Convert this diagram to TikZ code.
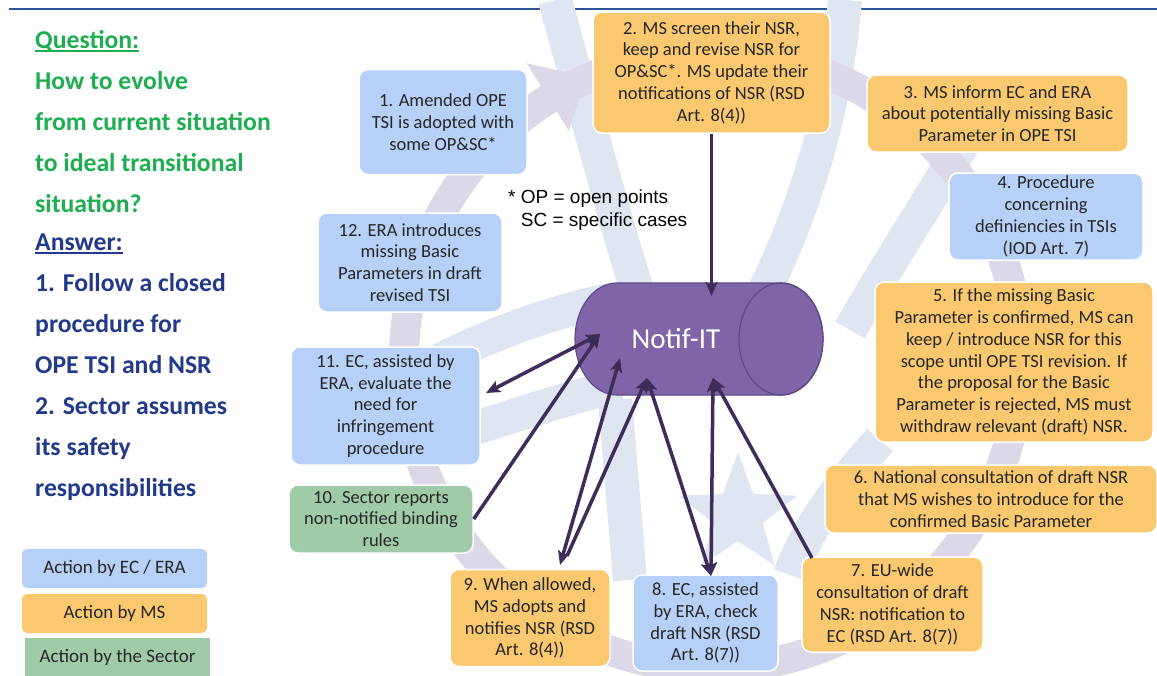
\documentclass[tikz,border=0pt]{standalone}
\usepackage{fontspec}
\setmainfont{Carlito}
\newfontfamily\notefont{Liberation Sans}
\usepackage[svgnames]{xcolor}
\usepackage{tikz}
\usetikzlibrary{arrows.meta, calc, positioning, shapes.geometric}
\definecolor{ecblue}{HTML}{B6D0F8}
\definecolor{msorange}{HTML}{F9C86F}
\definecolor{secgreen}{HTML}{A0CBA8}
\definecolor{qgreen}{HTML}{1DAE50}
\definecolor{anavy}{HTML}{233A8C}
\definecolor{flowpurple}{HTML}{3E2C5A}
\definecolor{cylfill}{HTML}{8064A8}
\definecolor{cylline}{HTML}{5E4A88}
\definecolor{swoosh}{HTML}{DFE6F1}
\definecolor{ringcol}{HTML}{DCD8E8}
\definecolor{topline}{HTML}{2F5597}
\newcommand\thickul[1]{\setbox0\hbox{#1}\rlap{\raisebox{-3.5pt}{\rule{\wd0}{2pt}}}\box0}
\tikzset{ x=1pt, y=-1pt, >={Stealth[length=14pt, width=12pt, inset=3pt]},
  box/.style={draw=white, line width=1.5pt, rounded corners=9pt, align=center, inner sep=2pt, text=black!85, font=\fontsize{18.5}{21.8}\selectfont},
  ecbox/.style={box, fill=ecblue}, msbox/.style={box, fill=msorange}, secbox/.style={box, fill=secgreen},
  legend/.style={box, draw=none, rounded corners=5pt, minimum width=185pt, minimum height=39pt, font=\fontsize{19}{22}\selectfont},
  flow/.style={draw=flowpurple, line width=3.5pt},
  band/.style={draw=swoosh, line width=34pt},
  sidetext/.style={anchor=north west, inner sep=0pt, align=left, font=\fontsize{25.7}{41}\selectfont\bfseries} }
\def\cylrx{42}
\def\cylry{56}

\begin{document}
\begin{tikzpicture}
\useasboundingbox[fill=white] (0,0) rectangle (1157,675);
\draw[topline, line width=1.3pt] (9,9) -- (1157,9);
\draw[band] (555,0) .. controls (585,110) and (612,210) .. (640,300);
\draw[band] (845,0) .. controls (835,120) and (800,220) .. (760,300);
\draw[band] (965,140) .. controls (930,200) and (890,260) .. (850,330);
\draw[band] (440,360) .. controls (500,330) and (560,310) .. (610,300);
\draw[band] (470,430) .. controls (530,410) and (580,395) .. (620,385);
\draw[band] (615,400) -- (630,580);
\draw[band] (880,440) .. controls (845,480) and (810,520) .. (790,575);
\node[star, star points=5, star point ratio=2.4, fill=swoosh, minimum size=125pt, inner sep=0pt] (star) at (738,515) {};
\coordinate (ctr) at (712,360);
\draw[ringcol, line width=30pt] (ctr) circle[radius=308];
\fill[ringcol] ($(ctr)+(-122:350)$) -- ($(ctr)+(-114:310)$) -- ($(ctr)+(-122:270)$) -- cycle;

\node[sidetext, text=qgreen] (question) at (35,30)
  {\thickul{Question:}\\How to evolve\\from current situation\\to ideal transitional\\situation?};
\node[sidetext, text=anavy] (answer) at (35,234)
  {\thickul{Answer:}\\1. Follow a closed\\procedure for\\OPE TSI and NSR\\2. Sector assumes\\its safety\\responsibilities};

\node[ecbox, minimum width=168pt, minimum height=105pt] (b1) at (443,122) {1. Amended OPE\\TSI is adopted with\\some OP\&SC*};
\node[msbox, minimum width=237pt, minimum height=121pt] (b2) at (711.5,72.5) {2. MS screen their NSR,\\keep and revise NSR for\\OP\&SC*. MS update their\\notifications of NSR (RSD\\Art. 8(4))};
\node[msbox, minimum width=261pt, minimum height=77pt] (b3) at (997.5,113.5) {3. MS inform EC and ERA\\about potentially missing Basic\\Parameter in OPE TSI};
\node[ecbox, minimum width=194pt, minimum height=87pt] (b4) at (1046,216.5) {4. Procedure\\concerning\\definiencies in TSIs\\(IOD Art. 7)};
\node[msbox, minimum width=278pt, minimum height=160pt] (b5) at (1014,362) {5. If the missing Basic\\Parameter is confirmed, MS can\\keep / introduce NSR for this\\scope until OPE TSI revision. If\\the proposal for the Basic\\Parameter is rejected, MS must\\withdraw relevant (draft) NSR.};
\node[msbox, minimum width=332pt, minimum height=68pt] (b6) at (991,499) {6. National consultation of draft NSR\\that MS wishes to introduce for the\\confirmed Basic Parameter};
\node[msbox, minimum width=181pt, minimum height=95pt] (b7) at (892.5,604.5) {7. EU-wide\\consultation of draft\\NSR: notification to\\EC (RSD Art. 8(7))};
\node[ecbox, minimum width=145pt, minimum height=96pt] (b8) at (705.5,623) {8. EC, assisted\\by ERA, check\\draft NSR (RSD\\Art. 8(7))};
\node[msbox, minimum width=160pt, minimum height=97pt] (b9) at (530,618) {9. When allowed,\\MS adopts and\\notifies NSR (RSD\\Art. 8(4))};
\node[secbox, minimum width=184pt, minimum height=68pt] (b10) at (381,519) {10. Sector reports\\non-notified binding\\rules};
\node[ecbox, minimum width=189pt, minimum height=118pt] (b11) at (385.5,406) {11. EC, assisted by\\ERA, evaluate the\\need for\\infringement\\procedure};
\node[ecbox, minimum width=184pt, minimum height=99pt] (b12) at (410,262.5) {12. ERA introduces\\missing Basic\\Parameters in draft\\revised TSI};

\node[anchor=north west, inner sep=0pt, align=left, font=\notefont\fontsize{19}{23}\selectfont] (note) at (508,190) {* OP = open points\\\phantom{*\ }SC = specific cases};

\filldraw[fill=cylfill, draw=cylline, line width=1.2pt] (617,283) -- (781,283)
  arc[start angle=-90, end angle=90, x radius=\cylrx, y radius=\cylry] -- (617,395)
  arc[start angle=90, end angle=270, x radius=\cylrx, y radius=\cylry] -- cycle;
\draw[cylline, line width=1.2pt] (781,339) ellipse[x radius=\cylrx, y radius=\cylry];
\node[text=white, font=\fontsize{29}{32}\selectfont, minimum width=200pt, minimum height=112pt] (cyl) at (676,339) {Notif-IT};

\coordinate (t0) at (711.5,296);
\coordinate (t1) at (600,334);
\coordinate (t2) at (620,358);
\coordinate (t3) at (647,378);
\coordinate (t4) at (713,378);
\coordinate (e11) at (486,393);
\coordinate (e9a) at (560,565);
\coordinate (e9b) at (567,556);
\coordinate (e8) at (711,576);
\coordinate (e7) at (812,558);
\draw[flow, ->] (b2.south) -- (t0);
\draw[flow, <->] (e11) -- (t1);
\draw[flow, ->] (b10.east) -- (t1);
\draw[flow, <->] (e9a) -- (t2);
\draw[flow, ->] (e9b) -- (t3);
\draw[flow, <->] (t3) -- (e8);
\draw[flow, <->] (t4) -- (e8);
\draw[flow, ->] (e7) -- (t4);

\node[legend, fill=ecblue] (lgec) at (114.5,568.5) {Action by EC / ERA};
\node[legend, fill=msorange] (lgms) at (114.5,613.5) {Action by MS};
\node[legend, fill=secgreen, rounded corners=0pt] (lgsec) at (117.5,657) {Action by the Sector};
\end{tikzpicture}
\end{document}
